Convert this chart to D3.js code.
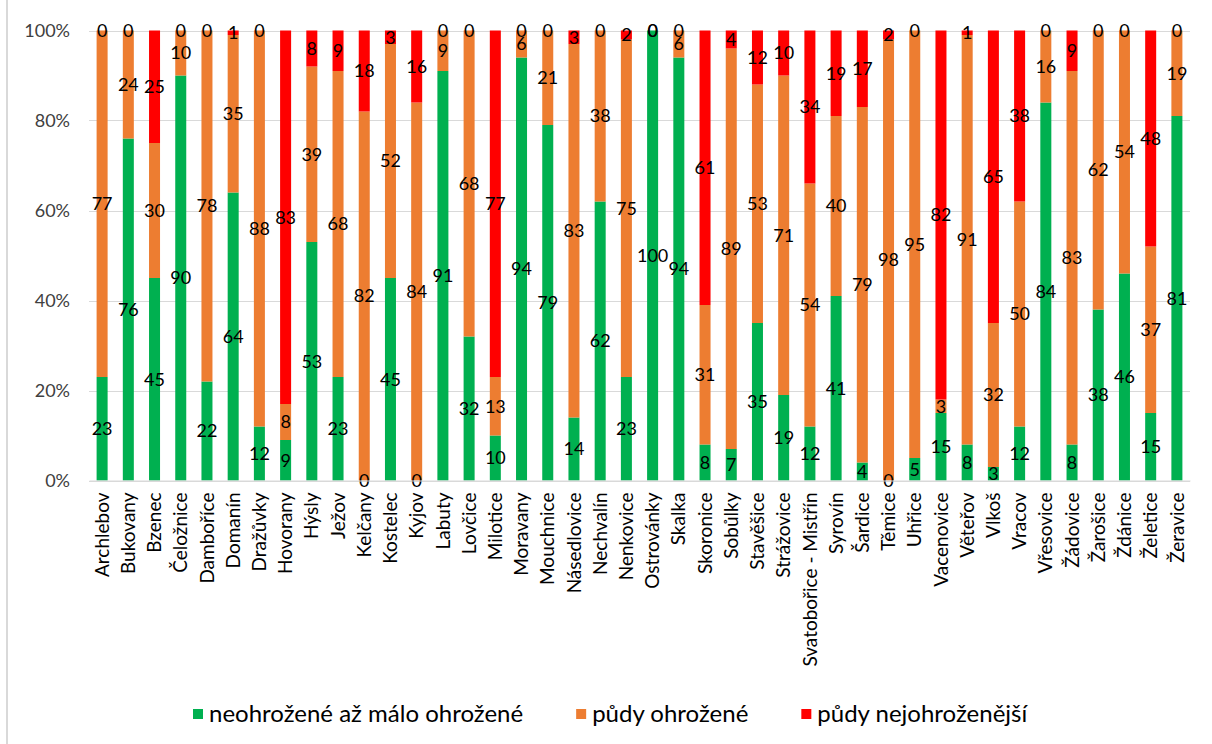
<!DOCTYPE html>
<html>
<head>
<meta charset="utf-8">
<script src="https://cdn.jsdelivr.net/npm/d3@7"></script>
<style>
  html, body { margin: 0; padding: 0; background: #fff; }
  svg { display: block; font-family: Lato, "Open Sans", sans-serif; }
</style>
</head>
<body>
<svg id="chart" width="1212" height="744"></svg>
<script>
const categories = ["Archlebov","Bukovany","Bzenec","Čeložnice","Damboříce","Domanín","Dražůvky","Hovorany","Hýsly","Ježov","Kelčany","Kostelec","Kyjov","Labuty","Lovčice","Milotice","Moravany","Mouchnice","Násedlovice","Nechvalín","Nenkovice","Ostrovánky","Skalka","Skoronice","Sobůlky","Stavěšice","Strážovice","Svatobořice - Mistřín","Syrovín","Šardice","Těmice","Uhřice","Vacenovice","Věteřov","Vlkoš","Vracov","Vřesovice","Žádovice","Žarošice","Ždánice","Želetice","Žeravice"];
const neohrozene = [23,76,45,90,22,64,12,9,53,23,0,45,0,91,32,10,94,79,14,62,23,100,94,8,7,35,19,12,41,4,0,5,15,8,3,12,84,8,38,46,15,81];
const ohrozene   = [77,24,30,10,78,35,88,8,39,68,82,52,84,9,68,13,6,21,83,38,75,0,6,31,89,53,71,54,40,79,98,95,3,91,32,50,16,83,62,54,37,19];
const nejohrozenejsi = [0,0,25,0,0,1,0,83,8,9,18,3,16,0,0,77,0,0,3,0,2,0,0,61,4,12,10,34,19,17,2,0,82,1,65,38,0,9,0,0,48,0];
const seriesNames = ["neohrožené až málo ohrožené","půdy ohrožené","půdy nejohroženější"];
const seriesColors = ["#00B050","#ED7D31","#FF0000"];
const yTicks = [0,0.2,0.4,0.6,0.8,1];

const rows = categories.map((c,i)=>({cat:c, s0:neohrozene[i], s1:ohrozene[i], s2:nejohrozenejsi[i]}));
const keys = ["s0","s1","s2"];
const stacked = d3.stack().keys(keys).offset(d3.stackOffsetExpand)(rows);

const svg = d3.select("#chart");
const plot = {left: 89, right: 1190, top: 30.5, bottom: 480.5};

const x = d3.scaleBand().domain(categories).range([plot.left, plot.right]).paddingInner(0.58).paddingOuter(0.29);
const y = d3.scaleLinear().domain([0,1]).range([plot.bottom, plot.top]);

// outer left border line
svg.append("line").attr("x1",7).attr("x2",7).attr("y1",0).attr("y2",744)
  .attr("stroke","#D9D9D9").attr("stroke-width",2);

// gridlines
svg.append("g").selectAll("line").data(yTicks).join("line")
  .attr("x1",plot.left).attr("x2",plot.right)
  .attr("y1",d=>Math.round(y(d))+0.5).attr("y2",d=>Math.round(y(d))+0.5)
  .attr("stroke","#D9D9D9").attr("stroke-width",1);

// y axis labels
const yAxis = d3.axisLeft(y).tickValues(yTicks).tickFormat(d3.format(".0%")).tickSize(0).tickPadding(0);
const yg = svg.append("g").attr("transform",`translate(70,0)`).call(yAxis);
yg.select(".domain").remove();
yg.selectAll("text").attr("font-size",18).attr("fill","#404040").attr("font-family","Lato, sans-serif");

// bars
const layers = svg.append("g").selectAll("g").data(stacked).join("g")
  .attr("fill",(d,i)=>seriesColors[i]);
layers.selectAll("rect").data(d=>d.map(p=>({p, cat:p.data.cat}))).join("rect")
  .attr("x",d=>x(d.cat))
  .attr("width",x.bandwidth())
  .attr("y",d=>y(d.p[1]))
  .attr("height",d=>Math.max(0,y(d.p[0])-y(d.p[1])));

// data labels
const labels = svg.append("g").attr("font-size",18).attr("fill","#000").attr("text-anchor","middle");
stacked.forEach((layer,si)=>{
  layer.forEach(p=>{
    const v = p.data[keys[si]];
    labels.append("text")
      .attr("x", x(p.data.cat)+x.bandwidth()/2)
      .attr("y", y((p[0]+p[1])/2))
      .attr("dy","0.35em")
      .text(v);
  });
});

// x axis labels
const xAxis = d3.axisBottom(x).tickSize(0).tickPadding(0);
const xg = svg.append("g").attr("transform",`translate(0,${plot.bottom})`).call(xAxis);
xg.select(".domain").attr("stroke","#D9D9D9");
xg.selectAll("text")
  .attr("font-size",19).attr("fill","#000").attr("font-family","Lato, sans-serif")
  .attr("text-anchor","end")
  .attr("transform","rotate(-90)")
  .attr("x",-12).attr("y",0).attr("dy","0.35em");

// legend
const legend = svg.append("g");
let lx = 193;
seriesNames.forEach((name,i)=>{
  legend.append("rect").attr("x",lx).attr("y",709).attr("width",10).attr("height",10).attr("fill",seriesColors[i]);
  const t = legend.append("text").attr("x",lx+16).attr("y",722).attr("font-size",24).attr("fill","#000").text(name);
  lx += 16 + t.node().getComputedTextLength() + 53;
});
</script>
</body>
</html>
